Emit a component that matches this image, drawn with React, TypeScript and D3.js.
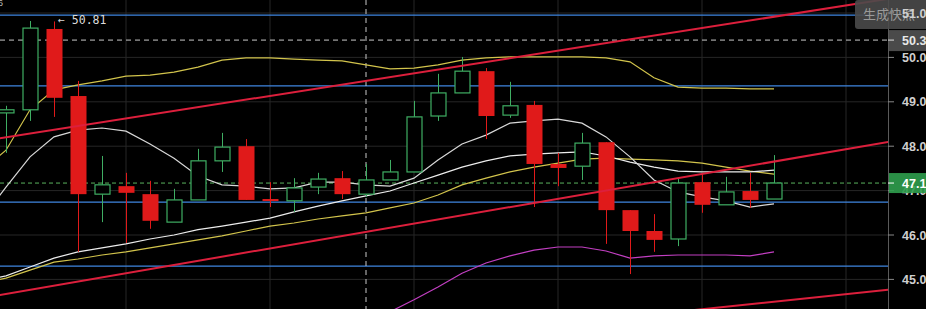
import React from "react";
import * as d3 from "d3";

// ---- data ----
const opens = [48.75, 48.82, 50.64, 49.13, 46.92, 47.10, 46.92, 46.29, 46.79, 47.67, 48.00, 46.81, 46.77, 47.08, 47.28, 46.92, 47.24, 47.42, 48.68, 49.20, 49.69, 48.70, 48.93, 47.60, 47.55, 48.09, 46.56, 46.09, 45.91, 47.19, 46.68, 46.99, 46.81];
const highs = [48.91, 50.82, 50.81, 49.47, 47.78, 47.40, 47.22, 47.04, 47.94, 48.30, 48.16, 47.19, 47.28, 47.40, 47.44, 47.60, 47.69, 49.02, 49.63, 50.01, 49.76, 49.45, 49.02, 47.85, 48.30, 48.09, 46.56, 46.47, 47.28, 47.40, 47.31, 47.40, 47.80];
const lows = [47.85, 48.57, 48.66, 45.62, 46.29, 45.82, 46.14, 46.29, 46.79, 47.42, 46.79, 46.63, 46.52, 46.92, 46.81, 46.86, 47.24, 47.42, 48.57, 49.20, 48.16, 48.64, 46.63, 47.10, 47.24, 45.80, 45.12, 45.62, 45.75, 46.50, 46.68, 46.61, 46.81];
const closes = [48.82, 50.66, 49.09, 46.92, 47.13, 46.95, 46.32, 46.79, 47.67, 47.98, 46.79, 46.77, 47.06, 47.26, 46.92, 47.24, 47.42, 48.66, 49.20, 49.69, 48.68, 48.91, 47.60, 47.51, 48.07, 46.56, 46.09, 45.89, 47.17, 46.68, 46.97, 46.79, 47.17];

// indicator lines, starting at index -1
const yellowUpper = [47.46, 47.91, 48.82, 49.27, 49.38, 49.47, 49.58, 49.60, 49.67, 49.78, 49.94, 49.99, 49.99, 49.96, 49.94, 49.92, 49.83, 49.74, 49.76, 49.83, 49.94, 49.99, 50.01, 50.01, 50.01, 50.01, 49.99, 49.90, 49.54, 49.33, 49.31, 49.31, 49.29, 49.29];
const whiteFast = [46.36, 47.08, 47.76, 48.21, 48.36, 48.41, 48.34, 48.05, 47.73, 47.33, 47.13, 47.10, 47.04, 47.06, 47.19, 47.19, 47.13, 47.10, 47.28, 47.69, 48.05, 48.25, 48.52, 48.57, 48.61, 48.52, 48.21, 47.76, 47.24, 46.97, 46.86, 46.77, 46.63, 46.70];
const whiteSlow = [44.96, 45.08, 45.28, 45.48, 45.62, 45.71, 45.80, 45.91, 46.00, 46.12, 46.20, 46.29, 46.38, 46.52, 46.65, 46.77, 46.88, 46.99, 47.17, 47.35, 47.53, 47.67, 47.78, 47.82, 47.85, 47.87, 47.78, 47.64, 47.53, 47.44, 47.42, 47.42, 47.42, 47.46];
const yellowLower = [44.92, 45.03, 45.21, 45.39, 45.46, 45.55, 45.62, 45.71, 45.80, 45.89, 45.98, 46.09, 46.20, 46.27, 46.36, 46.43, 46.50, 46.61, 46.72, 46.90, 47.13, 47.28, 47.42, 47.53, 47.62, 47.71, 47.73, 47.71, 47.69, 47.67, 47.62, 47.53, 47.44, 47.37];
// magenta line starts at index 16
const magenta = [44.27, 44.54, 44.83, 45.14, 45.37, 45.53, 45.66, 45.73, 45.73, 45.64, 45.48, 45.53, 45.55, 45.55, 45.55, 45.53, 45.62];

const blueLevels = [50.95, 49.36, 46.74, 45.30];
const trendUpper: [number, number][] = [[-1, 48.115], [37, 51.34]];
const trendMiddle: [number, number][] = [[-1, 44.58], [37, 48.12]];
const trendLower: [number, number][] = [[20, 43.82], [37, 44.78]];

const gridIndices = [5, 11, 17, 23, 29, 35];
const axisTicks = [51, 50, 49, 48, 47, 46, 45];
const crossIndex = 15;
const crossValue = 50.39;
const lastPrice = 47.17;
const highMark = 50.81;
const highMarkIndex = 2;

const W = 926;
const H = 309;
const PLOT_R = 888;

export default function App() {
  const x = d3.scaleLinear().domain([0, 32]).range([6, 774]);
  const y = d3.scaleLinear().domain([45, 51]).range([279.4, 13]);

  const mkLine = (vals: number[], start: number) =>
    d3
      .line<number>()
      .x((_, k) => x(start + k))
      .y((v) => y(v))
      .curve(d3.curveLinear)(vals) || "";

  const seg = (p: [number, number][]) =>
    d3
      .line<[number, number]>()
      .x((d) => x(d[0]))
      .y((d) => y(d[1]))(p) || "";

  const red = "#e01a1a";
  const green = "#3fae63";
  const bodyW = 15;

  return (
    <div style={{ position: "fixed", left: 0, top: 0 }}>
      <svg width={W} height={H} style={{ display: "block", background: "#000" }} fontFamily="'Liberation Sans', Arial, sans-serif">
        <defs>
          <clipPath id="plot">
            <rect x={0} y={0} width={PLOT_R} height={H} />
          </clipPath>
        </defs>
        <rect x={0} y={0} width={W} height={H} fill="#000" />
        <g clipPath="url(#plot)">
          {/* grid */}
          {axisTicks.map((t) => (
            <line key={"h" + t} x1={0} x2={PLOT_R} y1={y(t)} y2={y(t)} stroke="#262626" strokeWidth={1} />
          ))}
          {gridIndices.map((g) => (
            <line key={"v" + g} x1={x(g)} x2={x(g)} y1={0} y2={H} stroke="#262626" strokeWidth={1} />
          ))}
          {/* blue levels */}
          {blueLevels.map((b) => (
            <line key={"b" + b} x1={0} x2={PLOT_R} y1={y(b)} y2={y(b)} stroke="#3f86e0" strokeWidth={1.2} />
          ))}
          {/* crosshair */}
          <line x1={x(crossIndex)} x2={x(crossIndex)} y1={0} y2={H} stroke="#c8c8c8" strokeWidth={1} strokeDasharray="5,4" />
          <line x1={0} x2={PLOT_R} y1={y(crossValue)} y2={y(crossValue)} stroke="#c8c8c8" strokeWidth={1} strokeDasharray="5,4" />
          {/* price line */}
          <line x1={0} x2={PLOT_R} y1={y(lastPrice)} y2={y(lastPrice)} stroke="#5ab25e" strokeWidth={1} strokeDasharray="4,3" />
          {/* indicator lines */}
          <path d={mkLine(yellowUpper, -1)} fill="none" stroke="#d2c44c" strokeWidth={1.2} />
          <path d={mkLine(yellowLower, -1)} fill="none" stroke="#d2c44c" strokeWidth={1.2} />
          <path d={mkLine(whiteSlow, -1)} fill="none" stroke="#ececec" strokeWidth={1.2} />
          <path d={mkLine(whiteFast, -1)} fill="none" stroke="#d8d8d8" strokeWidth={1.2} />
          <path d={mkLine(magenta, 16)} fill="none" stroke="#c23fc2" strokeWidth={1.2} />
          {/* candles */}
          {opens.map((o, i) => {
            const c = closes[i];
            const up = c >= o;
            const cx = Math.round(x(i)) + 0.5;
            const top = y(Math.max(o, c));
            const bot = y(Math.min(o, c));
            const h = Math.max(2, bot - top);
            if (up) {
              return (
                <g key={i}>
                  <line x1={cx} x2={cx} y1={y(highs[i])} y2={top} stroke={green} strokeWidth={1} />
                  <line x1={cx} x2={cx} y1={top + h} y2={Math.max(top + h, y(lows[i]))} stroke={green} strokeWidth={1} />
                  <rect x={cx - bodyW / 2} y={top} width={bodyW} height={h} fill="#000" stroke={green} strokeWidth={1.2} />
                </g>
              );
            }
            return (
              <g key={i}>
                <line x1={cx} x2={cx} y1={y(highs[i])} y2={y(lows[i])} stroke={red} strokeWidth={1} />
                <rect x={cx - bodyW / 2 - 0.5} y={top} width={bodyW + 1} height={h} fill={red} />
              </g>
            );
          })}
          {/* trend lines */}
          <path d={seg(trendUpper)} stroke="#dc1f3c" strokeWidth={2} fill="none" />
          <path d={seg(trendMiddle)} stroke="#dc1f3c" strokeWidth={2} fill="none" />
          <path d={seg(trendLower)} stroke="#dc1f3c" strokeWidth={2} fill="none" />
          {/* high marker */}
          <text x={x(highMarkIndex) + 4} y={y(highMark) + 3} fontFamily="'DejaVu Sans Mono', monospace" fontSize={11.5} fill="#dcdcdc">
            {"\u2190 " + highMark.toFixed(2)}
          </text>
          <text x={-2} y={6} fontSize={9} fill="#bbb">6</text>
        </g>

        {/* right axis */}
        <line x1={PLOT_R + 0.5} x2={PLOT_R + 0.5} y1={0} y2={H} stroke="#5a5a5a" strokeWidth={1} />
        <rect x={855} y={0} width={80} height={29} rx={3} fill="#4a4a4a" opacity={0.9} />
        <text x={863} y={19} fontFamily="'Noto Sans CJK SC', sans-serif" fontSize={13} fill="#9a9a9a">生成快照</text>
        {axisTicks.map((t) => (
          <g key={"t" + t}>
            <line x1={PLOT_R} x2={PLOT_R + 6} y1={y(t)} y2={y(t)} stroke="#888" strokeWidth={1} />
            <text x={902} y={y(t) + 4.5} fontSize={12.5} fontWeight="bold" fill="#cfcfcf">
              {t.toFixed(2)}
            </text>
          </g>
        ))}
        {/* crosshair label */}
        <rect x={PLOT_R + 1} y={y(crossValue) - 10} width={40} height={21} fill="#4a4a4a" />
        <line x1={PLOT_R} x2={PLOT_R + 6} y1={y(crossValue)} y2={y(crossValue)} stroke="#ddd" strokeWidth={1} />
        <text x={902} y={y(crossValue) + 4.5} fontSize={12.5} fontWeight="bold" fill="#e8e8e8">
          {crossValue.toFixed(2)}
        </text>
        {/* last price label */}
        <rect x={PLOT_R + 1} y={y(lastPrice) - 10} width={40} height={20} fill="#2f9e4e" opacity={0.9} />
        <line x1={PLOT_R} x2={PLOT_R + 6} y1={y(lastPrice)} y2={y(lastPrice)} stroke="#fff" strokeWidth={1} />
        <text x={902} y={y(lastPrice) + 4.5} fontSize={12.5} fontWeight="bold" fill="#ffffff">
          {lastPrice.toFixed(2)}
        </text>
      </svg>
    </div>
  );
}
